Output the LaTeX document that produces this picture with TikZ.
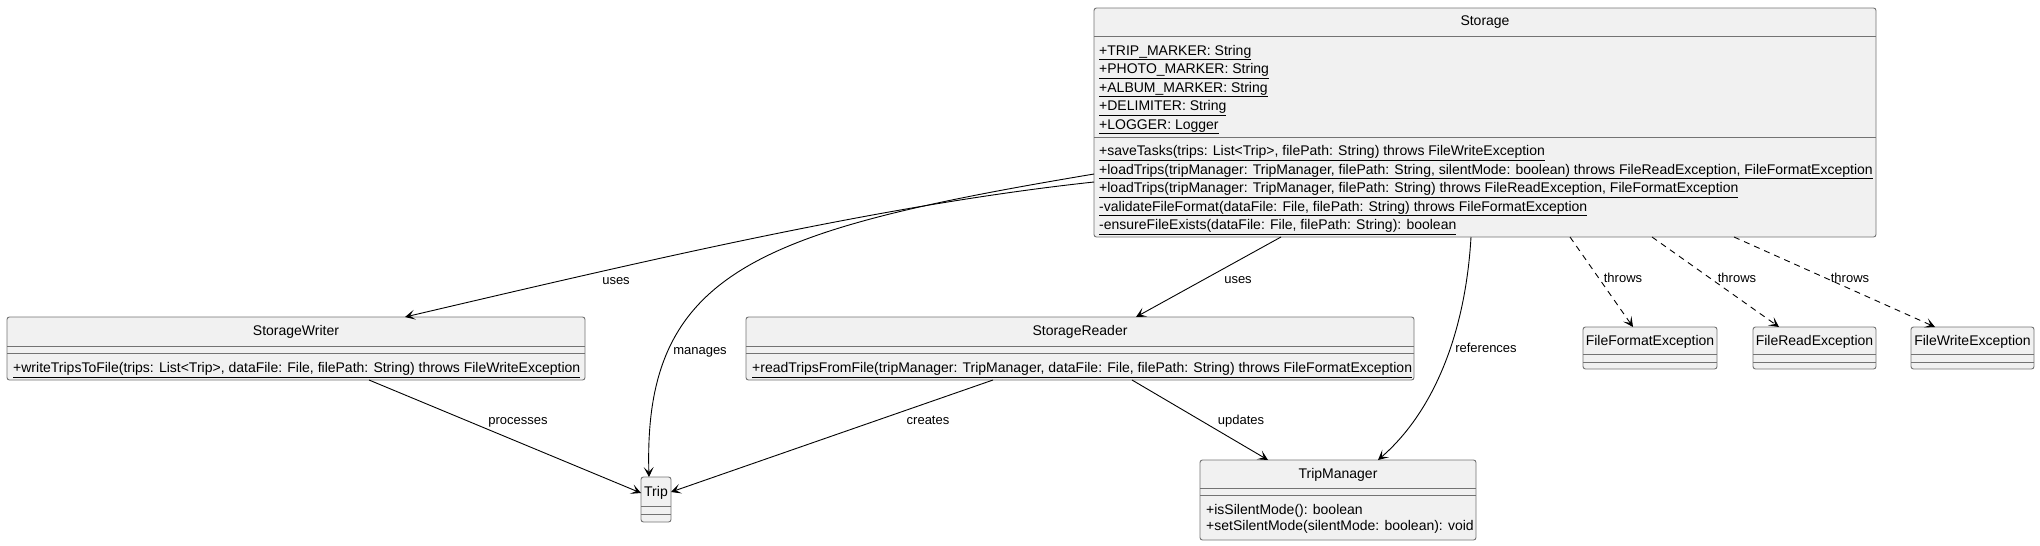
\documentclass[tikz,border=0pt]{standalone}
\usepackage{fontspec}
\setmainfont{Liberation Sans}
\usetikzlibrary{arrows.meta}
\definecolor{clsfill}{HTML}{F1F1F1}
\definecolor{clsborder}{HTML}{737373}
\begin{document}
\begin{tikzpicture}[x=1pt,y=-1pt,
  cls/.style={draw=clsborder, fill=clsfill, rounded corners=2.5pt, line width=0.9pt, inner sep=0pt, outer sep=0pt},
  sepline/.style={draw=clsborder, line width=0.9pt},
  member/.style={anchor=west, inner sep=0pt, text height=10pt, text depth=3pt, font=\fontsize{14pt}{16pt}\selectfont},
  ctitle/.style={inner sep=0pt, text height=10pt, text depth=3pt, font=\fontsize{14pt}{16pt}\selectfont},
  lbl/.style={inner sep=0pt, text height=9.5pt, text depth=2.5pt, font=\fontsize{13pt}{15pt}\selectfont},
  rel/.style={draw=black, line width=0.9pt, -{Stealth[length=10pt,width=10pt,inset=5pt]}},
  dep/.style={rel, dash pattern=on 6pt off 5pt}
]
\useasboundingbox (0,0) rectangle (2040,546);

% ---------------- Storage ----------------
\node[cls, minimum width=782pt, minimum height=229pt] (storage) at (1485,122.5) {};
\draw[sepline] ([yshift=-28pt]storage.north west) -- ([yshift=-28pt]storage.north east);
\draw[sepline] ([yshift=-129pt]storage.north west) -- ([yshift=-129pt]storage.north east);
\node[ctitle] (storaget) at (1485,22) {Storage};
\node[member] (sa1) at (1099,51.5) {\underline{+TRIP\_MARKER: String}};
\node[member] (sa2) at (1099,70) {\underline{+PHOTO\_MARKER: String}};
\node[member] (sa3) at (1099,88.5) {\underline{+ALBUM\_MARKER: String}};
\node[member] (sa4) at (1099,107) {\underline{+DELIMITER: String}};
\node[member] (sa5) at (1099,125.5) {\underline{+LOGGER: Logger}};
\node[member] (sm1) at (1099,152) {\underline{+saveTasks(trips: List<Trip>, filePath: String) throws FileWriteException}};
\node[member] (sm2) at (1099,170.5) {\underline{+loadTrips(tripManager: TripManager, filePath: String, silentMode: boolean) throws FileReadException, FileFormatException}};
\node[member] (sm3) at (1099,189) {\underline{+loadTrips(tripManager: TripManager, filePath: String) throws FileReadException, FileFormatException}};
\node[member] (sm4) at (1099,207.5) {\underline{-validateFileFormat(dataFile: File, filePath: String) throws FileFormatException}};
\node[member] (sm5) at (1099,226) {\underline{-ensureFileExists(dataFile: File, filePath: String): boolean}};

% ---------------- StorageWriter ----------------
\node[cls, minimum width=578pt, minimum height=63pt] (writer) at (296,348.5) {};
\draw[sepline] ([yshift=-29pt]writer.north west) -- ([yshift=-29pt]writer.north east);
\draw[sepline] ([yshift=-36pt]writer.north west) -- ([yshift=-36pt]writer.north east);
\node[ctitle] (writert) at (296,332) {StorageWriter};
\node[member] (wm1) at (13,369) {\underline{+writeTripsToFile(trips: List<Trip>, dataFile: File, filePath: String) throws FileWriteException}};

% ---------------- StorageReader ----------------
\node[cls, minimum width=668pt, minimum height=63pt] (reader) at (1080,348.5) {};
\draw[sepline] ([yshift=-29pt]reader.north west) -- ([yshift=-29pt]reader.north east);
\draw[sepline] ([yshift=-36pt]reader.north west) -- ([yshift=-36pt]reader.north east);
\node[ctitle] (readert) at (1080,332) {StorageReader};
\node[member] (rm1) at (752,369) {\underline{+readTripsFromFile(tripManager: TripManager, dataFile: File, filePath: String) throws FileFormatException}};

% ---------------- Trip ----------------
\node[cls, minimum width=30pt, minimum height=45pt] (trip) at (656,499.5) {};
\draw[sepline] ([yshift=-29pt]trip.north west) -- ([yshift=-29pt]trip.north east);
\draw[sepline] ([yshift=-37pt]trip.north west) -- ([yshift=-37pt]trip.north east);
\node[ctitle] (tript) at (656,493) {Trip};

% ---------------- TripManager ----------------
\node[cls, minimum width=276pt, minimum height=80pt] (tm) at (1338,500) {};
\draw[sepline] ([yshift=-28pt]tm.north west) -- ([yshift=-28pt]tm.north east);
\draw[sepline] ([yshift=-35pt]tm.north west) -- ([yshift=-35pt]tm.north east);
\node[ctitle] (tmt) at (1338,475) {TripManager};
\node[member] (tm1) at (1206,511) {+isSilentMode(): boolean};
\node[member] (tm2) at (1206,527) {+setSilentMode(silentMode: boolean): void};

% ---------------- Exceptions ----------------
\node[cls, minimum width=134pt, minimum height=42pt] (ffe) at (1650,348) {};
\draw[sepline] ([yshift=-27pt]ffe.north west) -- ([yshift=-27pt]ffe.north east);
\draw[sepline] ([yshift=-35pt]ffe.north west) -- ([yshift=-35pt]ffe.north east);
\node[ctitle] (ffet) at (1650,342) {FileFormatException};

\node[cls, minimum width=123pt, minimum height=42pt] (fre) at (1814.5,348) {};
\draw[sepline] ([yshift=-27pt]fre.north west) -- ([yshift=-27pt]fre.north east);
\draw[sepline] ([yshift=-35pt]fre.north west) -- ([yshift=-35pt]fre.north east);
\node[ctitle] (fret) at (1814.5,342) {FileReadException};

\node[cls, minimum width=123pt, minimum height=42pt] (fwe) at (1972.5,348) {};
\draw[sepline] ([yshift=-27pt]fwe.north west) -- ([yshift=-27pt]fwe.north east);
\draw[sepline] ([yshift=-35pt]fwe.north west) -- ([yshift=-35pt]fwe.north east);
\node[ctitle] (fwet) at (1972.5,342) {FileWriteException};

% ---------------- Connectors ----------------
\draw[rel] ([yshift=-174pt]storage.north west) .. controls (880,205) and (640,262) .. ([xshift=398pt]writer.north west);
\draw[rel] ([yshift=-166pt]storage.north west) .. controls (760,230) and (643,270) .. ([xshift=8pt]trip.north west);
\draw[rel] ([xshift=187pt]storage.south west) -- ([xshift=390pt]reader.north west);
\draw[rel] ([xshift=377pt]storage.south west) .. controls (1465,340) and (1430,415) .. ([xshift=178pt]tm.north west);
\draw[dep] ([xshift=476pt]storage.south west) -- ([xshift=50pt]ffe.north west);
\draw[dep] ([xshift=558pt]storage.south west) -- ([xshift=26pt]fre.north west);
\draw[dep] ([xshift=640pt]storage.south west) -- ([xshift=24pt]fwe.north west);
\draw[rel] ([xshift=362pt]writer.south west) -- ([yshift=6.5pt]trip.west);
\draw[rel] ([xshift=247pt]reader.south west) -- ([yshift=7.5pt]trip.east);
\draw[rel] ([xshift=386pt]reader.south west) -- ([xshift=68pt]tm.north west);

% ---------------- Labels ----------------
\node[lbl] (l1) at (616,281) {uses};
\node[lbl] (l2) at (700,351) {manages};
\node[lbl] (l3) at (1238,280) {uses};
\node[lbl] (l4) at (1486,349) {references};
\node[lbl] (l5) at (518,421) {processes};
\node[lbl] (l6) at (928,421) {creates};
\node[lbl] (l7) at (1241,421) {updates};
\node[lbl] (l8) at (1623,279) {throws};
\node[lbl] (l9) at (1737,279) {throws};
\node[lbl] (l10) at (1850,279) {throws};
\end{tikzpicture}
\end{document}
